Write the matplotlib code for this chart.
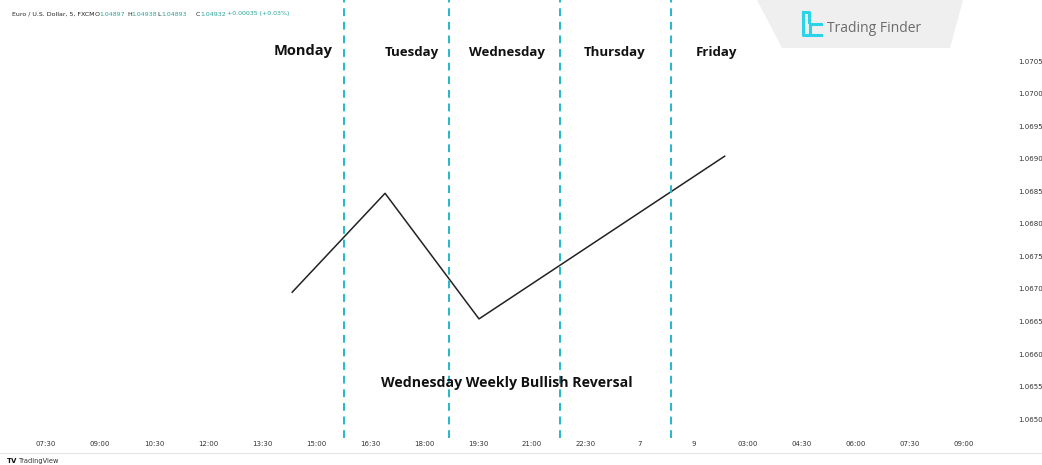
import matplotlib
matplotlib.use("Agg")
import matplotlib.pyplot as plt
from matplotlib.patches import Polygon

# time axis labels (evenly spaced slots)
time_labels = ['07:30', '09:00', '10:30', '12:00', '13:30', '15:00', '16:30', '18:00', '19:30',
               '21:00', '22:30', '7', '9', '03:00', '04:30', '06:00', '07:30', '09:00']
price_ticks = [1.0650, 1.0655, 1.0660, 1.0665, 1.0670, 1.0675, 1.0680, 1.0685,
               1.0690, 1.0695, 1.0700, 1.0705]

# price path (slot position, price)
path_x = [4.56, 6.28, 8.02, 12.57]
path_y = [1.06695, 1.06847, 1.06654, 1.06904]

# day separators and labels
separators = [5.52, 7.46, 9.52, 11.57]
days = ['Monday', 'Tuesday', 'Wednesday', 'Thursday', 'Friday']
day_x = [4.77, 6.77, 8.54, 10.54, 12.41]

W, H = 1042, 465
fig = plt.figure(figsize=(W / 100, H / 100), dpi=100)
ax = fig.add_axes([0, 1 - 438 / H, 1000 / W, 438 / H])

ax.set_xlim(-0.852, 17.67)
ax.set_ylim(1.06471, 1.07144)

for s in ax.spines.values():
    s.set_visible(False)

ax.plot(path_x, path_y, color='#222222', lw=1.1)

for sx in separators:
    ax.axvline(sx, color='#22b8cc', lw=1.4, ls=(0, (4, 3)))

for d, dx in zip(days, day_x):
    ax.text(dx, 1.07064 if d != 'Monday' else 1.07066, d, ha='center', va='center',
            fontsize=10.5 if d == 'Monday' else 9.5, fontweight='bold',
            family='Open Sans', color='#111111')

ax.text(8.54, 1.06555, 'Wednesday Weekly Bullish Reversal', ha='center', va='center',
        fontsize=10.2, fontweight='bold', family='Open Sans', color='#111111')

ax.set_xticks(range(len(time_labels)))
ax.set_xticklabels(time_labels)
ax.set_yticks(price_ticks)
ax.set_yticklabels([f'{p:.4f}' for p in price_ticks])
ax.yaxis.tick_right()
ax.tick_params(axis='x', length=0, pad=2, labelsize=5, labelcolor='#333333')
ax.tick_params(axis='y', length=0, pad=13, labelsize=5, labelcolor='#333333')

# header line
hy = 1 - 14 / H
fs = 4.5
fig.text(12 / W, hy, 'Euro / U.S. Dollar, 5, FXCM', fontsize=fs, color='#222222', va='center')
hdr = [('O', '1.04897', 95), ('H', '1.04938', 127), ('L', '1.04893', 157), ('C', '1.04932', 196)]
for k, v, px in hdr:
    fig.text(px / W, hy, k, fontsize=fs, color='#222222', va='center')
    fig.text((px + 4) / W, hy, v, fontsize=fs, color='#26a69a', va='center')
fig.text(227 / W, hy, '+0.00035 (+0.03%)', fontsize=fs, color='#26a69a', va='center')

# logo panel
poly = Polygon([(757 / W, 1), (963 / W, 1), (950 / W, 1 - 48 / H), (782 / W, 1 - 48 / H)],
               closed=True, transform=fig.transFigure, facecolor='#efefef', edgecolor='none')
fig.patches.append(poly)
cyan = '#2ad4e8'
fig.lines.append(plt.Line2D([803 / W, 803 / W, 808 / W],
                            [1 - 12 / H, 1 - 35 / H, 1 - 35 / H],
                            transform=fig.transFigure, color=cyan, lw=2.2))
fig.lines.append(plt.Line2D([803 / W, 809 / W, 809 / W],
                            [1 - 12 / H, 1 - 12 / H, 1 - 22 / H],
                            transform=fig.transFigure, color=cyan, lw=2.2))
fig.lines.append(plt.Line2D([821 / W, 810 / W, 810 / W, 821 / W],
                            [1 - 24 / H, 1 - 24 / H, 1 - 35 / H, 1 - 35 / H],
                            transform=fig.transFigure, color=cyan, lw=2.2))
fig.text(827 / W, 1 - 28 / H, 'Trading Finder', fontsize=10, color='#6b6b6b',
         family='Open Sans', va='center')

# footer
fig.lines.append(plt.Line2D([0, 1], [1 - 453 / H, 1 - 453 / H], transform=fig.transFigure,
                            color='#e6e6e6', lw=0.8))
fig.text(7 / W, 1 - 461 / H, 'TV', fontsize=5, fontweight='bold', color='#111111', va='center')
fig.text(19 / W, 1 - 461 / H, 'TradingView', fontsize=4.8, color='#333333', va='center')

fig.savefig('out.png', dpi=100)
